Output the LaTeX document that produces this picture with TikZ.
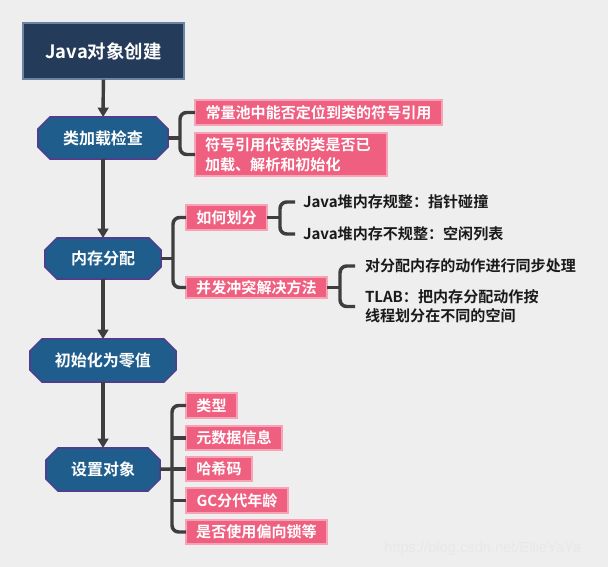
\documentclass[tikz,border=0pt]{standalone}
\usepackage{fontspec}
\setmainfont{Noto Sans CJK SC}[BoldFont={Noto Sans CJK SC Bold}]
\newfontfamily\wmfont{Liberation Sans}
\usetikzlibrary{arrows.meta,backgrounds,calc}
\newdimen\px \px=0.75pt
\definecolor{bgc}{HTML}{EEEEEE}
\definecolor{navy}{HTML}{243B59}
\definecolor{navyline}{HTML}{6E84A3}
\definecolor{octfillc}{HTML}{1F5E8C}
\definecolor{octline}{HTML}{4D3F8E}
\definecolor{pinkc}{HTML}{EF5F7F}
\definecolor{pinkline}{HTML}{F7A3B5}
\definecolor{connc}{HTML}{3E3E3E}
\definecolor{txtc}{HTML}{1A1A1A}
\tikzset{
  titlebox/.style={fill=navy, draw=navyline, line width=0.8pt, inner sep=0pt,
    text=white, font=\fontsize{13.8}{16}\selectfont\bfseries},
  octnode/.style={draw=none, inner sep=0pt, outer sep=0pt,
    text=white, font=\fontsize{12}{14}\selectfont\bfseries},
  pinkbox/.style={fill=pinkc, draw=pinkline, line width=0.8pt, anchor=west,
    inner xsep=7.5pt, inner ysep=0pt, outer sep=0pt, text=white,
    font=\fontsize{11.3}{15}\selectfont\bfseries},
  plaintext/.style={anchor=west, inner sep=0pt, outer sep=0pt, text=txtc,
    font=\fontsize{11.3}{14.5}\selectfont\bfseries},
  conn/.style={draw=connc, line width=2.6pt},
  bracket/.style={conn, rounded corners=5pt},
  arrowline/.style={conn, -{Triangle[width=8pt,length=7pt]}},
}
\begin{document}
\begin{tikzpicture}[x=0.75pt,y=-0.75pt]
\begin{scope}[on background layer]
  \fill[bgc] (0,0) rectangle (608,567);
\end{scope}
\useasboundingbox (0,0) rectangle (608,567);

% title
\node[titlebox, minimum width=161\px, minimum height=56\px] (t) at (103.5,51) {Java对象创建};

% main octagon nodes
\node[octnode, minimum width=130\px, minimum height=42\px] (jz) at (103,138) {类加载检查};
\node[octnode, minimum width=116\px, minimum height=41\px] (nc) at (103,258.5) {内存分配};
\node[octnode, minimum width=146\px, minimum height=43\px] (cs) at (103,360.5) {初始化为零值};
\node[octnode, minimum width=114\px, minimum height=43\px] (sz) at (103,469.5) {设置对象};

\begin{scope}[on background layer]
\foreach \n in {jz,nc,cs,sz}{
  \filldraw[fill=octfillc, draw=octline, line width=1.2pt]
    ($(\n.north west)+(12,0)$) -- ($(\n.north east)+(-12,0)$) --
    ($(\n.north east)+(0,12)$) -- ($(\n.south east)+(0,-12)$) --
    ($(\n.south east)+(-12,0)$) -- ($(\n.south west)+(12,0)$) --
    ($(\n.south west)+(0,-12)$) -- ($(\n.north west)+(0,12)$) -- cycle;
}
\end{scope}

% pink boxes
\node[pinkbox, minimum width=247\px, minimum height=25\px] (p1) at (195,112.5) {常量池中能否定位到类的符号引用};
\node[pinkbox, minimum width=190\px, minimum height=43\px, text width=172\px, align=left] (p2) at (195,154.5) {符号引用代表的类是否已\\加载、解析和初始化};

\node[pinkbox, minimum width=81\px, minimum height=25\px] (r1) at (186,217.5) {如何划分};
\node[pinkbox, minimum width=141\px, minimum height=21\px] (r2) at (186,287.5) {并发冲突解决方法};

\node[pinkbox, minimum width=51\px, minimum height=25\px] (s1) at (186,405.5) {类型};
\node[pinkbox, minimum width=96\px, minimum height=24\px] (s2) at (186,438) {元数据信息};
\node[pinkbox, minimum width=66\px, minimum height=24\px] (s3) at (186,469) {哈希码};
\node[pinkbox, minimum width=102\px, minimum height=25\px] (s4) at (186,500.5) {GC分代年龄};
\node[pinkbox, minimum width=141\px, minimum height=24\px] (s5) at (186,532) {是否使用偏向锁等};

% plain texts
\node[plaintext] (a1) at (303,202) {Java堆内存规整：指针碰撞};
\node[plaintext] (a2) at (303,234) {Java堆内存不规整：空闲列表};
\node[plaintext] (b1) at (365,266) {对分配内存的动作进行同步处理};
\node[plaintext, align=left] (b2) at (365,306.5) {TLAB：把内存分配动作按\\线程划分在不同的空间};

% main arrows
\draw[arrowline] (t) -- (jz);
\draw[arrowline] (jz) -- (nc);
\draw[arrowline] (nc) -- (cs);
\draw[arrowline] (cs) -- (sz);

% brackets
\coordinate (k1) at (180,138);
\draw[conn] (jz) -- (k1);
\draw[bracket] (p1.west) -| (k1) |- (p2.west);

\coordinate (k2) at (173,258.5);
\draw[conn] (nc) -- (k2);
\draw[bracket] (r1.west) -| (k2) |- (r2.west);

\coordinate (k3) at (280,217.5);
\draw[conn] (r1) -- (k3);
\draw[bracket, shorten <=6pt, shorten >=6pt] (a1.west) -| (k3) |- (a2.west);

\coordinate (k4) at (340,287.5);
\draw[conn] (r2) -- (k4);
\draw[bracket, shorten <=7.5pt, shorten >=7.5pt] (b1.west) -| (k4) |- (b2.west);

\coordinate (k5) at (172,469);
\draw[conn] (sz) -- (k5);
\draw[bracket] (s1.west) -| (k5) |- (s5.west);
\draw[conn] (k5) -- (s3.west);
\draw[conn] (k5 |- s2.west) -- (s2.west);
\draw[conn] (k5 |- s4.west) -- (s4.west);

% watermark
\node[anchor=west, inner sep=0pt, text=white!82!gray, font=\wmfont\fontsize{11}{13}\selectfont] (wm) at (384,549) {https://blog.csdn.net/EllieYaYa};
\end{tikzpicture}
\end{document}
